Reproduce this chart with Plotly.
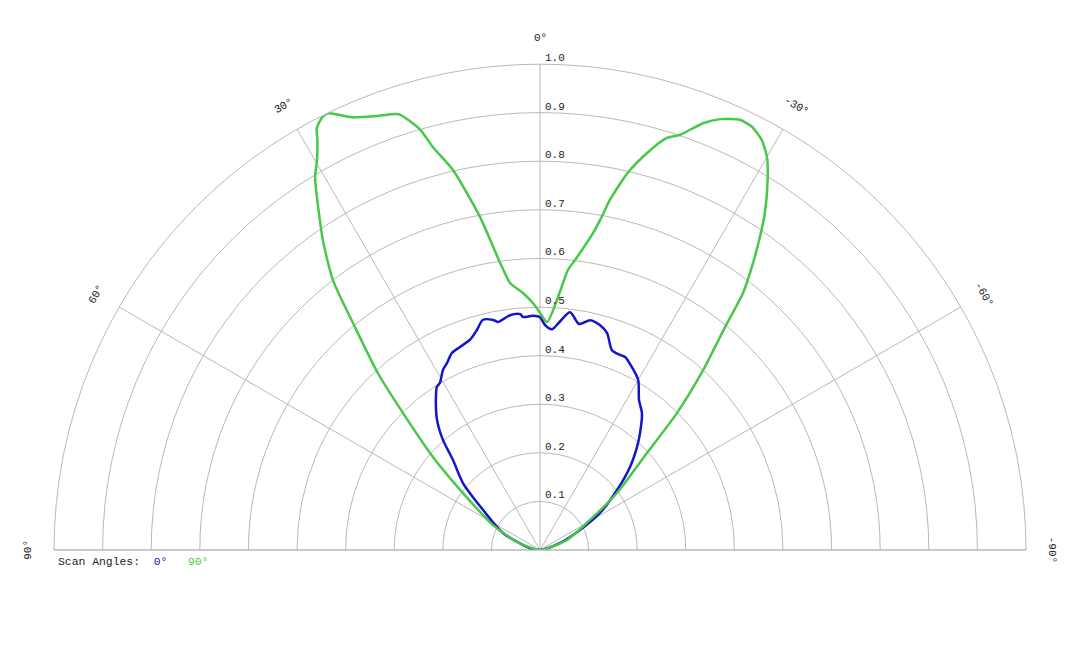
import numpy as np
import plotly.graph_objects as go

# ---- data: relative intensity vs angle (degrees) ----
scan0_theta = [90, 78.7, 65.3, 54.9, 49.0, 44.0, 41.4, 38.4, 34.2, 32.3, 30.9, 28.3, 26.4,
               24.1, 21.5, 18.4, 16.0, 13.9, 11.5, 10.4, 7.3, 4.8, 4.2, 1.7, 0.0,
               -1.3, -3.1, -5.0, -7.2, -9.8, -12.3, -14.9, -17.2, -19.8, -22.3, -23.8,
               -26.7, -30.0, -33.4, -36.7, -40.5, -43.3, -47.3, -52.1, -58.3, -63.4,
               -70.7, -90]
scan0_r = [0.0, 0.021, 0.084, 0.143, 0.210, 0.258, 0.302, 0.341, 0.381, 0.397, 0.401, 0.421,
           0.430, 0.444, 0.449, 0.456, 0.471, 0.488, 0.483, 0.477, 0.487, 0.487, 0.481,
           0.482, 0.479, 0.463, 0.455, 0.472, 0.493, 0.472, 0.484, 0.479, 0.467, 0.437,
           0.434, 0.434, 0.421, 0.404, 0.370, 0.351, 0.317, 0.291, 0.252, 0.201, 0.145,
           0.092, 0.044, 0.0]

scan90_theta = [90, 70.8, 62.0, 53.5, 49.0, 45.0, 42.5, 39.7, 37.5, 35.0, 31.1, 29.9, 28.5,
                27.9, 26.7, 25.9, 24.7, 23.4, 20.6, 18.0, 15.9, 14.9, 12.9, 10.2, 7.9, 6.4,
                3.8, 1.6, 0.0, -1.8, -3.9, -5.7, -6.9, -9.5, -10.5, -11.3, -13.1, -15.1,
                -17.1, -18.6, -20.9, -22.7, -24.9, -26.6, -28.4, -30.0, -31.6, -33.7,
                -35.1, -36.8, -38.3, -39.7, -42.2, -45.0, -47.8, -53.5, -59.0, -69.7, -90]
scan90_r = [0.0, 0.050, 0.110, 0.197, 0.292, 0.399, 0.494, 0.596, 0.700, 0.779, 0.896, 0.921,
            0.960, 0.982, 0.997, 0.999, 0.985, 0.970, 0.954, 0.943, 0.899, 0.858, 0.802,
            0.696, 0.596, 0.553, 0.530, 0.508, 0.488, 0.469, 0.516, 0.579, 0.601, 0.661,
            0.697, 0.735, 0.797, 0.846, 0.887, 0.901, 0.940, 0.961, 0.976, 0.974, 0.959,
            0.934, 0.894, 0.834, 0.787, 0.728, 0.674, 0.596, 0.500, 0.399, 0.297, 0.197,
            0.120, 0.059, 0.0]

radial_ticks = [0.1, 0.2, 0.3, 0.4, 0.5, 0.6, 0.7, 0.8, 0.9, 1.0]
radial_labels = ["0.1", "0.2", "0.3", "0.4", "0.5", "0.6", "0.7", "0.8", "0.9", "1.0"]
angle_ticks = [90, 60, 30, 0, -30, -60, -90]
angle_labels = ["90°", "60°", "30°", "0°", "-30°", "-60°", "-90°"]

BLUE = "#1414c8"
GREEN = "#48c848"
GRID = "#b8b8b8"
FONT = "Liberation Mono"
TXT = "#222"

W, H = 1080, 648
# polar placement (pixels): centre and outer radius
CX, CY, R = 540, 550, 486

fig = go.Figure()
fig.add_trace(go.Scatterpolar(theta=scan0_theta, r=scan0_r, mode="lines",
                              line=dict(color=BLUE, width=2.5, shape="spline", smoothing=0.8),
                              name="0°"))
fig.add_trace(go.Scatterpolar(theta=scan90_theta, r=scan90_r, mode="lines",
                              line=dict(color=GREEN, width=2.5, shape="spline", smoothing=0.6),
                              name="90°"))

annotations = []
# angular labels, rotated tangentially
for t, lab in zip(angle_ticks, angle_labels):
    rr = 1.054 * R
    px = CX - rr * np.sin(np.radians(t))
    py = CY - rr * np.cos(np.radians(t))
    annotations.append(dict(x=px / W, y=1 - py / H, xref="paper", yref="paper",
                            text=lab, showarrow=False, textangle=-t,
                            xanchor="center", yanchor="middle",
                            font=dict(family=FONT, size=11, color=TXT)))
# radial labels along the 0° spoke, just above each ring
for v, lab in zip(radial_ticks, radial_labels):
    py = CY - v * R - 6
    annotations.append(dict(x=(CX + 3) / W, y=1 - py / H, xref="paper", yref="paper",
                            text=lab, showarrow=False, xanchor="left", yanchor="middle",
                            font=dict(family=FONT, size=11, color=TXT)))

annotations.append(dict(x=56 / W, y=1 - 562 / H, xref="paper", yref="paper",
                        xanchor="left", yanchor="middle", showarrow=False,
                        text=("Scan Angles:&nbsp;&nbsp;"
                              f"<span style='color:{BLUE}'>0°</span>&nbsp;&nbsp;&nbsp;"
                              f"<span style='color:{GREEN}'>90°</span>"),
                        font=dict(family=FONT, size=11.4, color=TXT)))

fig.update_layout(
    width=W, height=H,
    margin=dict(l=0, r=0, t=0, b=0),
    paper_bgcolor="white",
    showlegend=False,
    polar=dict(
        domain=dict(x=[(CX - R) / W, (CX + R) / W], y=[1 - CY / H, 1 - (CY - R) / H]),
        sector=[0, 180],
        bgcolor="white",
        angularaxis=dict(rotation=90, direction="counterclockwise",
                         tickvals=angle_ticks, showticklabels=False, ticks="",
                         showgrid=True, gridcolor=GRID, gridwidth=1,
                         showline=True, linecolor=GRID, linewidth=1),
        radialaxis=dict(range=[0, 1], angle=90,
                        tickvals=radial_ticks, showticklabels=False,
                        showline=False, ticks="", showgrid=True,
                        gridcolor=GRID, gridwidth=1),
    ),
    annotations=annotations,
)

fig.write_html("out.html")
